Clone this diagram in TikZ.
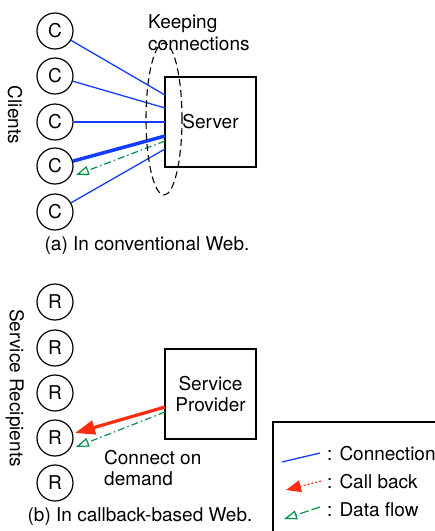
\documentclass[tikz,border=0pt]{standalone}
\usepackage{fontspec}
\setmainfont{TeX Gyre Heros}
\usetikzlibrary{arrows.meta,shapes.geometric}
\definecolor{connblue}{RGB}{20,60,255}
\definecolor{cbred}{RGB}{255,45,15}
\definecolor{flowgreen}{RGB}{0,145,70}
\begin{document}
\begin{tikzpicture}[x=1pt,y=-1pt,font=\fontsize{19}{21.7}\selectfont,
  cnode/.style={circle,draw,line width=1.2pt,minimum size=36pt,inner sep=0pt},
  boxnode/.style={draw,line width=1.2pt,minimum width=91pt,minimum height=90pt,align=center,inner sep=0pt},
  conn/.style={connblue,line width=1.3pt},
  thickconn/.style={connblue,line width=3.5pt},
  flow/.style={flowgreen,line width=1.2pt,dash pattern=on 7pt off 3pt on 1.5pt off 3pt,-{Triangle[open,length=13pt,width=9pt,line width=1.2pt]}},
  callback/.style={cbred,line width=3.2pt,-{Triangle[length=20pt,width=14pt]}},
  keepell/.style={ellipse,draw,line width=1.1pt,dash pattern=on 7pt off 4pt,minimum width=36pt,minimum height=152pt,inner sep=0pt},
  lbl/.style={inner sep=0pt}
]
\useasboundingbox (0,0) rectangle (435,531);
% ---------- (a) ----------
\node[cnode] (c1) at (55,31) {C};
\node[cnode] (c2) at (55,76) {C};
\node[cnode] (c3) at (55,122) {C};
\node[cnode] (c4) at (55,166) {C};
\node[cnode] (c5) at (55,212) {C};
\node[boxnode] (server) at (210.5,122) {Server};
\coordinate (s1) at (165,95);
\coordinate (s2) at (165,108);
\coordinate (s3) at (165,122);
\coordinate (s4) at (165,136);
\coordinate (s5) at (165,149);
\coordinate (sf) at (165,141);
\coordinate (cf) at (76,175);
\draw[conn] (c1) -- (s1);
\draw[conn] (c2) -- (s2);
\draw[conn] (c3) -- (s3);
\draw[thickconn] (c4) -- (s4);
\draw[conn] (c5) -- (s5);
\draw[flow] (sf) -- (cf);
\node[keepell] (keep) at (164,119) {};
\node[lbl,align=left,anchor=west] (keeplbl) at (148,33) {Keeping\\connections};
\node[lbl,rotate=-90] (clients) at (15,115) {Clients};
\node[lbl] (capa) at (147,246) {(a) In conventional Web.};
% ---------- (b) ----------
\node[cnode] (r1) at (55,302) {R};
\node[cnode] (r2) at (55,348) {R};
\node[cnode] (r3) at (55,393) {R};
\node[cnode] (r4) at (55,438) {R};
\node[cnode] (r5) at (55,483) {R};
\node[boxnode] (prov) at (210.5,394) {Service\\Provider};
\coordinate (p1) at (165,407);
\coordinate (p2) at (165,412);
\coordinate (rt1) at (75,433);
\coordinate (rt2) at (76,447);
\draw[callback] (p1) -- (rt1);
\draw[flow] (p2) -- (rt2);
\node[lbl,align=left,anchor=west] (cod) at (104,468) {Connect on\\demand};
\node[lbl,rotate=-90] (recip) at (15,388) {Service Recipients};
\node[lbl] (capb) at (140,517) {(b) In callback-based Web.};
% ---------- legend ----------
\draw[line width=1.2pt] (273,422) rectangle (445,545);
\coordinate (la1) at (282,462);
\coordinate (la2) at (320,453);
\coordinate (lb1) at (321,481);
\coordinate (lb2) at (286,490);
\coordinate (lc1) at (320,507);
\coordinate (lc2) at (284,519);
\draw[conn] (la1) -- (la2);
\draw[cbred,line width=1.2pt,dash pattern=on 2pt off 2pt,-{Triangle[length=15pt,width=12pt]}] (lb1) -- (lb2);
\draw[flowgreen,line width=1.2pt,dash pattern=on 9pt off 3pt,-{Triangle[open,length=13pt,width=9pt,line width=1.2pt]}] (lc1) -- (lc2);
\node[lbl,anchor=west] (lt1) at (327,454) {: Connection};
\node[lbl,anchor=west] (lt2) at (327,482) {: Call back};
\node[lbl,anchor=west] (lt3) at (327,510) {: Data flow};
\end{tikzpicture}
\end{document}
